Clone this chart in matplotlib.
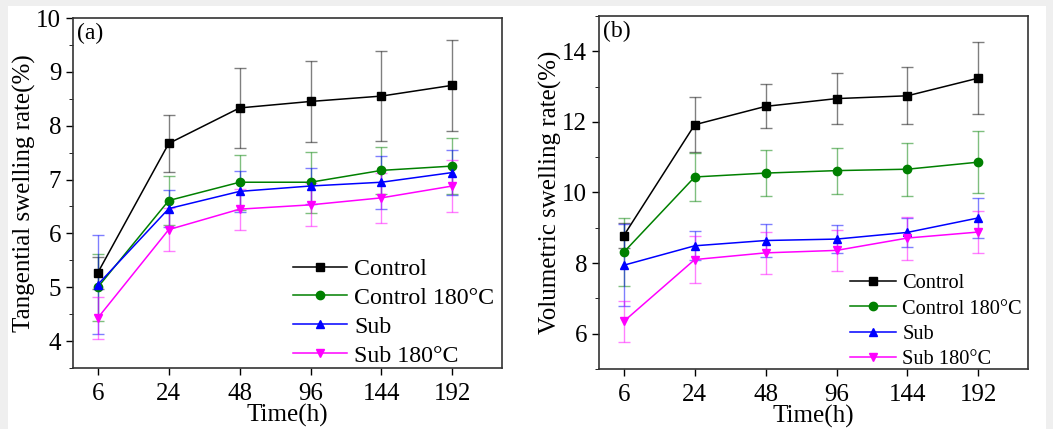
#!/usr/bin/env python
# coding:utf-8
"""plot.py - swelling rate vs time, two panels"""

import matplotlib
matplotlib.use('Agg')
import matplotlib.pyplot as plt
from matplotlib.patches import Rectangle
from matplotlib.ticker import MultipleLocator

plt.rcParams['font.family'] = ['Liberation Serif', 'DejaVu Serif']
plt.rcParams['mathtext.fontset'] = 'stix'

time_labels = ['6', '24', '48', '96', '144', '192']
series_names = ['Control', 'Control 180°C', 'Sub', 'Sub 180°C']

# panel (a) tangential swelling rate
tan_control = [5.27, 7.67, 8.33, 8.45, 8.55, 8.75]
tan_control_err = [0.30, 0.53, 0.75, 0.75, 0.83, 0.84]
tan_control180 = [5.00, 6.61, 6.95, 6.95, 7.17, 7.25]
tan_control180_err = [0.62, 0.46, 0.51, 0.57, 0.44, 0.52]
tan_sub = [5.05, 6.46, 6.78, 6.88, 6.95, 7.13]
tan_sub_err = [0.92, 0.35, 0.38, 0.34, 0.49, 0.42]
tan_sub180 = [4.43, 6.07, 6.45, 6.53, 6.66, 6.88]
tan_sub180_err = [0.39, 0.40, 0.38, 0.40, 0.46, 0.49]

# panel (b) volumetric swelling rate
vol_control = [8.78, 11.92, 12.44, 12.66, 12.74, 13.24]
vol_control_err = [0.35, 0.78, 0.62, 0.72, 0.81, 1.03]
vol_control180 = [8.31, 10.44, 10.55, 10.62, 10.66, 10.86]
vol_control180_err = [0.97, 0.67, 0.66, 0.65, 0.75, 0.87]
vol_sub = [7.94, 8.49, 8.64, 8.68, 8.87, 9.28]
vol_sub_err = [1.16, 0.41, 0.47, 0.40, 0.41, 0.57]
vol_sub180 = [6.35, 8.10, 8.29, 8.36, 8.71, 8.88]
vol_sub180_err = [0.58, 0.66, 0.59, 0.59, 0.61, 0.60]

COLORS = ['black', 'green', 'blue', 'magenta']
MARKERS = ['s', 'o', '^', 'v']


def draw_panel(ax, values, errors, ylim, major, ylabel, tag, legend_size, legend_anchor):
    x = list(range(len(time_labels)))
    for i, name in enumerate(series_names):
        ax.errorbar(x, values[i], yerr=errors[i], fmt='none', ecolor=COLORS[i],
                    alpha=0.5, elinewidth=1.0, capsize=4, capthick=1.0, zorder=2)
        ax.plot(x, values[i], color=COLORS[i], marker=MARKERS[i], markersize=6,
                linewidth=1.1, label=name, zorder=3)
    ax.set_xlim(-0.35, 5.7)
    ax.set_ylim(*ylim)
    ax.set_xticks(x)
    ax.set_xticklabels(time_labels)
    ax.yaxis.set_major_locator(MultipleLocator(major))
    ax.yaxis.set_minor_locator(MultipleLocator(major / 2))
    ax.tick_params(axis='both', which='major', direction='out', length=5,
                   labelsize=18, width=1.0, top=False, right=False)
    ax.tick_params(axis='x', which='major', pad=6)
    ax.tick_params(axis='y', which='minor', direction='out', length=3, right=False)
    for sp in ax.spines.values():
        sp.set_linewidth(1.2)
        sp.set_color('#333333')
    ax.set_xlabel('Time(h)', fontsize=18, labelpad=-1)
    ax.set_ylabel(ylabel, fontsize=18, labelpad=0)
    ax.text(0.01, 0.985, tag, transform=ax.transAxes, fontsize=17, va='top', ha='left')
    ax.legend(loc='lower right', bbox_to_anchor=legend_anchor, frameon=False,
              fontsize=legend_size, handlelength=2.25, handletextpad=0.3,
              labelspacing=0.3, borderaxespad=0.1)


def main():
    fig = plt.figure(figsize=(10.53, 4.29), dpi=100, facecolor='#efefef')
    # white page area inside the grey border
    fig.add_artist(Rectangle((8 / 1053, 0), 1038 / 1053, 1 - 6 / 429,
                             transform=fig.transFigure, facecolor='white',
                             edgecolor='none', zorder=-10))
    ax1 = fig.add_axes([73 / 1053, 1 - 368 / 429, 429 / 1053, 350 / 429])
    ax2 = fig.add_axes([599 / 1053, 1 - 369 / 429, 429 / 1053, 353 / 429])
    draw_panel(ax1,
               [tan_control, tan_control180, tan_sub, tan_sub180],
               [tan_control_err, tan_control180_err, tan_sub_err, tan_sub180_err],
               (3.5, 10), 1, 'Tangential swelling rate(%)', '(a)', 17.2, (1.01, -0.03))
    draw_panel(ax2,
               [vol_control, vol_control180, vol_sub, vol_sub180],
               [vol_control_err, vol_control180_err, vol_sub_err, vol_sub180_err],
               (5, 15), 2, 'Volumetric swelling rate(%)', '(b)', 14.7, (1.01, -0.03))
    fig.savefig('out.png', dpi=100, facecolor=fig.get_facecolor())
    plt.close(fig)


if __name__ == '__main__':
    main()
